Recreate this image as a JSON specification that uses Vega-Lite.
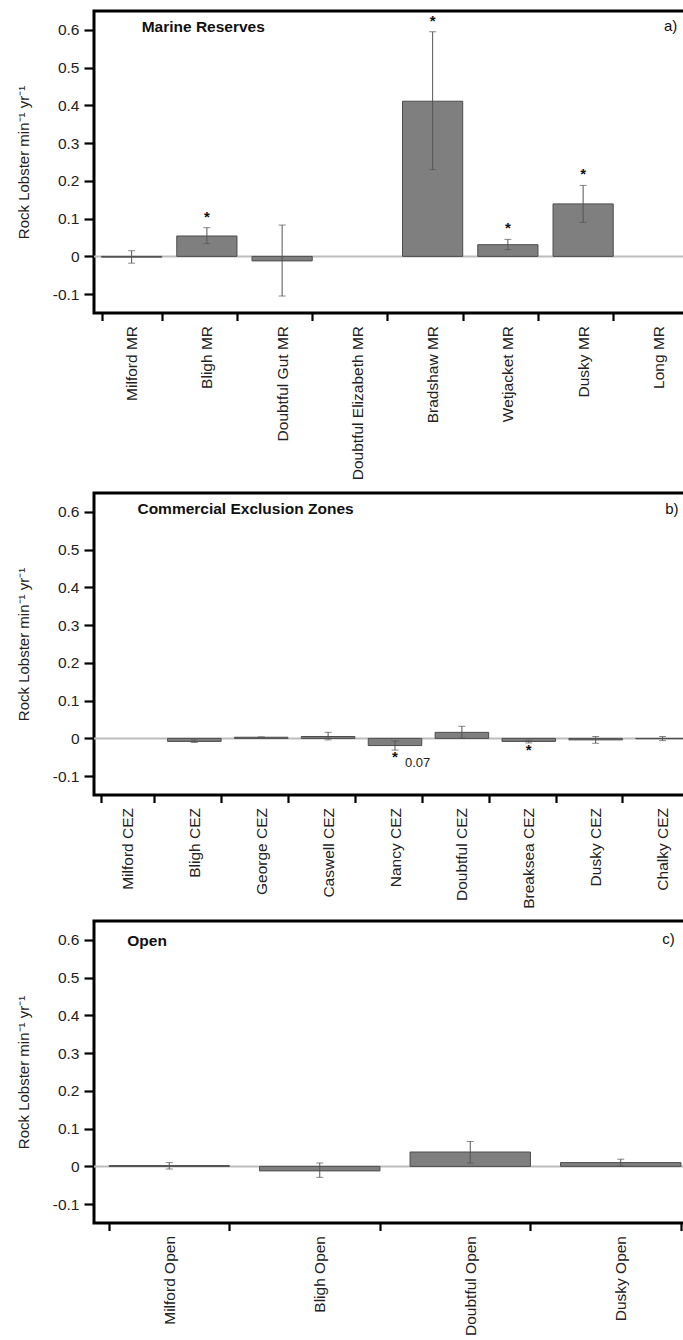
{
  "$schema": "https://vega.github.io/schema/vega-lite/v6.json",
  "padding": {"left": 14, "top": 9, "right": 0, "bottom": 0},
  "spacing": 9,
  "config": {
    "font": "Liberation Sans",
    "view": {"stroke": "black", "strokeWidth": 3},
    "axis": {
      "domain": false, "grid": false, "tickColor": "black", "tickWidth": 2.2,
      "labelColor": "#222", "labelFontSize": 15.5, "labelFont": "Liberation Sans",
      "titleFont": "Liberation Sans", "titleFontWeight": "normal", "titleColor": "#222", "titleFontSize": 15
    },
    "axisX": {"tickSize": 7.5, "labelPadding": 5, "labelAngle": -90, "tickBand": "extent", "labelLimit": 300},
    "axisY": {"tickSize": 10, "labelPadding": 5, "titleFontSize": 15, "titlePadding": 21}
  },
  "datasets": {
    "mr": [
      {"site": "Milford MR", "mean": -0.002, "lo": -0.018, "hi": 0.015},
      {"site": "Bligh MR", "mean": 0.054, "lo": 0.034, "hi": 0.076, "sig": "above"},
      {"site": "Doubtful Gut MR", "mean": -0.012, "lo": -0.105, "hi": 0.083},
      {"site": "Doubtful Elizabeth MR"},
      {"site": "Bradshaw MR", "mean": 0.411, "lo": 0.230, "hi": 0.595, "sig": "above"},
      {"site": "Wetjacket MR", "mean": 0.031, "lo": 0.018, "hi": 0.045, "sig": "above"},
      {"site": "Dusky MR", "mean": 0.139, "lo": 0.090, "hi": 0.188, "sig": "above"},
      {"site": "Long MR"}
    ],
    "cez": [
      {"site": "Milford CEZ"},
      {"site": "Bligh CEZ", "mean": -0.008, "lo": -0.011, "hi": -0.004},
      {"site": "George CEZ", "mean": 0.003, "lo": 0.002, "hi": 0.004},
      {"site": "Caswell CEZ", "mean": 0.005, "lo": -0.004, "hi": 0.016},
      {"site": "Nancy CEZ", "mean": -0.019, "lo": -0.031, "hi": -0.007, "sig": "below", "p": "0.07"},
      {"site": "Doubtful CEZ", "mean": 0.016, "lo": 0.001, "hi": 0.032},
      {"site": "Breaksea CEZ", "mean": -0.008, "lo": -0.012, "hi": -0.005, "sig": "below"},
      {"site": "Dusky CEZ", "mean": -0.004, "lo": -0.013, "hi": 0.005},
      {"site": "Chalky CEZ", "mean": -0.001, "lo": -0.006, "hi": 0.005}
    ],
    "open": [
      {"site": "Milford Open", "mean": 0.002, "lo": -0.007, "hi": 0.010},
      {"site": "Bligh Open", "mean": -0.012, "lo": -0.029, "hi": 0.009},
      {"site": "Doubtful Open", "mean": 0.038, "lo": 0.009, "hi": 0.066},
      {"site": "Dusky Open", "mean": 0.010, "lo": 0.001, "hi": 0.019}
    ]
  },
  "vconcat": [
    {
      "width": 602, "height": 302,
      "data": {"name": "mr"},
      "layer": [
        {"data": {"values": [{}]}, "mark": {"type": "rule", "color": "#bdbdbd", "strokeWidth": 2},
         "encoding": {"y": {"datum": 0, "type": "quantitative"}}},
        {"mark": {"type": "bar", "color": "#7f7f7f", "stroke": "#4d4d4d", "strokeWidth": 1},
         "encoding": {
           "x": {"field": "site", "type": "nominal", "sort": null,
                 "scale": {"domain": ["Milford MR", "Bligh MR", "Doubtful Gut MR", "Doubtful Elizabeth MR", "Bradshaw MR", "Wetjacket MR", "Dusky MR", "Long MR"], "paddingInner": 0.2, "paddingOuter": 0.1},
                 "axis": {"title": null}},
           "y": {"field": "mean", "type": "quantitative",
                 "scale": {"domain": [-0.15, 0.65], "nice": false, "zero": false},
                 "axis": {"title": "Rock Lobster min⁻¹ yr⁻¹", "titleFontSize": 15, "titlePadding": 21, "values": [-0.1, 0, 0.1, 0.2, 0.3, 0.4, 0.5, 0.6],
                          "labelExpr": "datum.value == 0 ? '0' : replace(format(datum.value, '.1f'), '−', '-')"}}
         }},
        {"mark": {"type": "rule", "color": "#555", "strokeWidth": 1},
         "encoding": {"x": {"field": "site", "type": "nominal", "sort": null},
                      "y": {"field": "lo", "type": "quantitative"}, "y2": {"field": "hi"}}},
        {"mark": {"type": "tick", "color": "#555", "size": 7, "thickness": 1, "orient": "horizontal"},
         "encoding": {"x": {"field": "site", "type": "nominal", "sort": null},
                      "y": {"field": "lo", "type": "quantitative"}}},
        {"mark": {"type": "tick", "color": "#555", "size": 7, "thickness": 1, "orient": "horizontal"},
         "encoding": {"x": {"field": "site", "type": "nominal", "sort": null},
                      "y": {"field": "hi", "type": "quantitative"}}},
        {"transform": [{"filter": "datum.sig == 'above'"}],
         "mark": {"type": "text", "text": "*", "fontSize": 15, "fontWeight": "bold", "baseline": "middle", "dy": -11, "color": "#111"},
         "encoding": {"x": {"field": "site", "type": "nominal", "sort": null},
                      "y": {"field": "hi", "type": "quantitative"}}},
        {"data": {"values": [{}]},
         "mark": {"type": "text", "align": "left", "baseline": "middle", "dx": 10, "fontSize": 15.5, "fontWeight": "bold", "color": "#111"},
         "encoding": {"x": {"datum": "Milford MR", "type": "nominal"}, "y": {"datum": 0.608, "type": "quantitative"},
                      "text": {"value": "Marine Reserves"}}},
        {"data": {"values": [{}]},
         "mark": {"type": "text", "align": "right", "baseline": "middle", "dx": 19, "fontSize": 15, "color": "#111"},
         "encoding": {"x": {"datum": "Long MR", "type": "nominal"}, "y": {"datum": 0.611, "type": "quantitative"},
                      "text": {"value": "a)"}}}
      ]
    },
    {
      "width": 602, "height": 302,
      "data": {"name": "cez"},
      "layer": [
        {"data": {"values": [{}]}, "mark": {"type": "rule", "color": "#bdbdbd", "strokeWidth": 2},
         "encoding": {"y": {"datum": 0, "type": "quantitative"}}},
        {"mark": {"type": "bar", "color": "#7f7f7f", "stroke": "#4d4d4d", "strokeWidth": 1},
         "encoding": {
           "x": {"field": "site", "type": "nominal", "sort": null,
                 "scale": {"domain": ["Milford CEZ", "Bligh CEZ", "George CEZ", "Caswell CEZ", "Nancy CEZ", "Doubtful CEZ", "Breaksea CEZ", "Dusky CEZ", "Chalky CEZ"], "paddingInner": 0.2, "paddingOuter": 0.1},
                 "axis": {"title": null}},
           "y": {"field": "mean", "type": "quantitative",
                 "scale": {"domain": [-0.15, 0.65], "nice": false, "zero": false},
                 "axis": {"title": "Rock Lobster min⁻¹ yr⁻¹", "titleFontSize": 15, "titlePadding": 21, "values": [-0.1, 0, 0.1, 0.2, 0.3, 0.4, 0.5, 0.6],
                          "labelExpr": "datum.value == 0 ? '0' : replace(format(datum.value, '.1f'), '−', '-')"}}
         }},
        {"mark": {"type": "rule", "color": "#555", "strokeWidth": 1},
         "encoding": {"x": {"field": "site", "type": "nominal", "sort": null},
                      "y": {"field": "lo", "type": "quantitative"}, "y2": {"field": "hi"}}},
        {"mark": {"type": "tick", "color": "#555", "size": 7, "thickness": 1, "orient": "horizontal"},
         "encoding": {"x": {"field": "site", "type": "nominal", "sort": null},
                      "y": {"field": "lo", "type": "quantitative"}}},
        {"mark": {"type": "tick", "color": "#555", "size": 7, "thickness": 1, "orient": "horizontal"},
         "encoding": {"x": {"field": "site", "type": "nominal", "sort": null},
                      "y": {"field": "hi", "type": "quantitative"}}},
        {"transform": [{"filter": "datum.sig == 'below'"}],
         "mark": {"type": "text", "text": "*", "fontSize": 15, "fontWeight": "bold", "baseline": "middle", "dy": 7, "color": "#111"},
         "encoding": {"x": {"field": "site", "type": "nominal", "sort": null},
                      "y": {"field": "lo", "type": "quantitative"}}},
        {"transform": [{"filter": "isValid(datum.p)"}],
         "mark": {"type": "text", "fontSize": 13, "align": "left", "baseline": "middle", "dx": 10, "dy": 13, "color": "#222"},
         "encoding": {"x": {"field": "site", "type": "nominal", "sort": null},
                      "y": {"field": "lo", "type": "quantitative"},
                      "text": {"field": "p"}}},
        {"data": {"values": [{}]},
         "mark": {"type": "text", "align": "left", "baseline": "middle", "dx": 10, "fontSize": 15.5, "fontWeight": "bold", "color": "#111"},
         "encoding": {"x": {"datum": "Milford CEZ", "type": "nominal"}, "y": {"datum": 0.608, "type": "quantitative"},
                      "text": {"value": "Commercial Exclusion Zones"}}},
        {"data": {"values": [{}]},
         "mark": {"type": "text", "align": "right", "baseline": "middle", "dx": 16, "fontSize": 15, "color": "#111"},
         "encoding": {"x": {"datum": "Chalky CEZ", "type": "nominal"}, "y": {"datum": 0.608, "type": "quantitative"},
                      "text": {"value": "b)"}}}
      ]
    },
    {
      "width": 602, "height": 302,
      "data": {"name": "open"},
      "layer": [
        {"data": {"values": [{}]}, "mark": {"type": "rule", "color": "#bdbdbd", "strokeWidth": 2},
         "encoding": {"y": {"datum": 0, "type": "quantitative"}}},
        {"mark": {"type": "bar", "color": "#7f7f7f", "stroke": "#4d4d4d", "strokeWidth": 1},
         "encoding": {
           "x": {"field": "site", "type": "nominal", "sort": null,
                 "scale": {"domain": ["Milford Open", "Bligh Open", "Doubtful Open", "Dusky Open"], "paddingInner": 0.2, "paddingOuter": 0.1},
                 "axis": {"title": null}},
           "y": {"field": "mean", "type": "quantitative",
                 "scale": {"domain": [-0.15, 0.65], "nice": false, "zero": false},
                 "axis": {"title": "Rock Lobster min⁻¹ yr⁻¹", "titleFontSize": 15, "titlePadding": 21, "values": [-0.1, 0, 0.1, 0.2, 0.3, 0.4, 0.5, 0.6],
                          "labelExpr": "datum.value == 0 ? '0' : replace(format(datum.value, '.1f'), '−', '-')"}}
         }},
        {"mark": {"type": "rule", "color": "#555", "strokeWidth": 1},
         "encoding": {"x": {"field": "site", "type": "nominal", "sort": null},
                      "y": {"field": "lo", "type": "quantitative"}, "y2": {"field": "hi"}}},
        {"mark": {"type": "tick", "color": "#555", "size": 7, "thickness": 1, "orient": "horizontal"},
         "encoding": {"x": {"field": "site", "type": "nominal", "sort": null},
                      "y": {"field": "lo", "type": "quantitative"}}},
        {"mark": {"type": "tick", "color": "#555", "size": 7, "thickness": 1, "orient": "horizontal"},
         "encoding": {"x": {"field": "site", "type": "nominal", "sort": null},
                      "y": {"field": "hi", "type": "quantitative"}}},
        {"data": {"values": [{}]},
         "mark": {"type": "text", "align": "left", "baseline": "middle", "dx": -42, "fontSize": 15.5, "fontWeight": "bold", "color": "#111"},
         "encoding": {"x": {"datum": "Milford Open", "type": "nominal"}, "y": {"datum": 0.597, "type": "quantitative"},
                      "text": {"value": "Open"}}},
        {"data": {"values": [{}]},
         "mark": {"type": "text", "align": "right", "baseline": "middle", "dx": 54, "fontSize": 15, "color": "#111"},
         "encoding": {"x": {"datum": "Dusky Open", "type": "nominal"}, "y": {"datum": 0.602, "type": "quantitative"},
                      "text": {"value": "c)"}}}
      ]
    }
  ]
}
